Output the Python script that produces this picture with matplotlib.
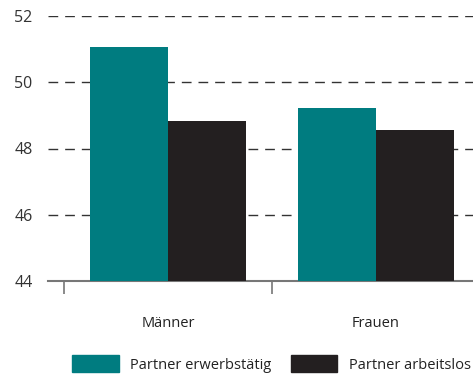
import matplotlib.pyplot as plt
import numpy as np
from matplotlib.patches import Patch

plt.rcParams['font.family'] = ['Open Sans', 'DejaVu Sans']

categories = ["Männer", "Frauen"]
erwerbstaetig = [51.05, 49.22]
arbeitslos = [48.83, 48.56]
series_labels = ["Partner erwerbstätig", "Partner arbeitslos"]
yticks = [44, 46, 48, 50, 52]

teal = "#007C80"
dark = "#231F20"

W, H = 473, 378
fig = plt.figure(figsize=(W / 100, H / 100), dpi=100)
# axes run past the right edge, like the clipped original
left, right, top, bottom = 48, 496, 16, 281
ax = fig.add_axes([left / W, 1 - bottom / H, (right - left) / W, (bottom - top) / H])

x = np.arange(len(categories))
w = 0.375
ax.bar(x - w / 2, erwerbstaetig, w, color=teal, zorder=3)
ax.bar(x + w / 2, arbeitslos, w, color=dark, zorder=3)

ax.set_ylim(44, 52)
ax.set_xlim(-0.577, 1.577)
ax.set_yticks(yticks)
ax.yaxis.grid(True, linestyle=(0, (7, 5)), color="#333333", linewidth=1.0, zorder=0)
ax.tick_params(axis="y", length=0, pad=11, labelsize=11.5, labelcolor="#333333")

ax.set_xticks(x)
ax.set_xticklabels(categories)
ax.tick_params(axis="x", which="major", length=0, pad=25, labelsize=10.5, labelcolor="#222222")
ax.set_xticks([-0.5, 0.5, 1.5], minor=True)
ax.tick_params(axis="x", which="minor", length=9, width=1.2, color="#777777")

for s in ["top", "right", "left"]:
    ax.spines[s].set_visible(False)
ax.spines["bottom"].set_color("#777777")
ax.spines["bottom"].set_linewidth(1.5)

handles = [Patch(color=teal), Patch(color=dark)]
fig.legend(handles, series_labels, ncol=2, frameon=False,
           loc="center left", bbox_to_anchor=(59 / W, 1 - 364 / H),
           handlelength=3.2, handleheight=1.4, handletextpad=0.8,
           columnspacing=1.3, fontsize=10.5, labelcolor="#222222")

fig.savefig("out.png", dpi=100)
